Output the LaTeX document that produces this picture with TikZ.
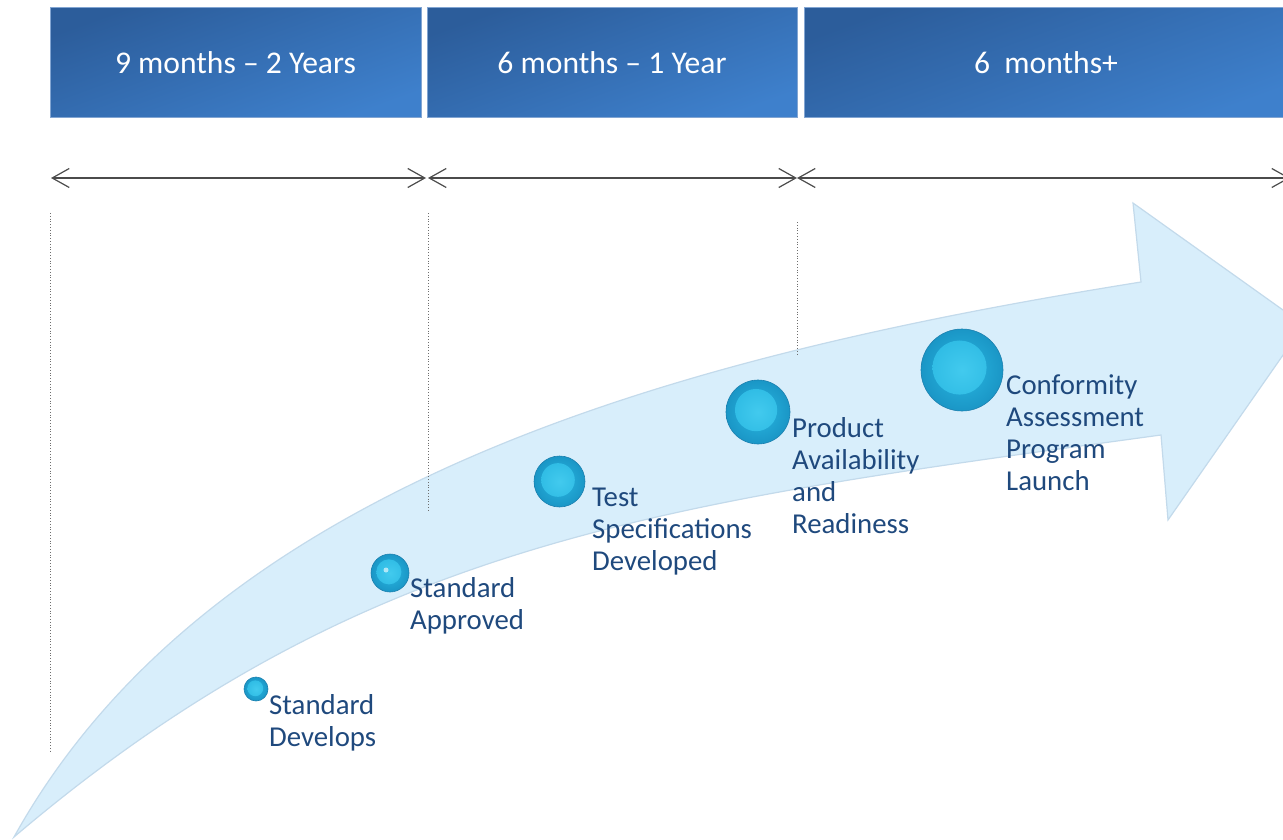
\documentclass[tikz,border=0pt]{standalone}
\usepackage{fontspec}
\setmainfont{Carlito}
\usetikzlibrary{arrows.meta}
\definecolor{hdrtop}{RGB}{44,93,155}
\definecolor{hdrbot}{RGB}{62,128,204}
\definecolor{hdredge}{RGB}{130,165,210}
\definecolor{lbl}{RGB}{31,73,125}
\definecolor{arrowfill}{RGB}{216,238,251}
\definecolor{arrowedge}{RGB}{195,218,235}
\definecolor{dotgray}{RGB}{110,110,110}
\definecolor{tlgray}{RGB}{75,75,75}
\definecolor{ballout}{RGB}{26,150,198}
\definecolor{ballmid}{RGB}{42,184,226}
\definecolor{ballin}{RGB}{66,202,238}
\definecolor{balledge}{RGB}{28,128,175}
\tikzset{
  hdr/.style={draw=hdredge, line width=1pt, top color=hdrtop, bottom color=hdrbot,
    shading angle=20, minimum height=110pt, inner sep=0pt, text=white,
    font=\fontsize{31.6}{38}\selectfont},
  tl/.style={draw=tlgray, line width=1.2pt,
    {Straight Barb[length=17pt,width=19pt]}-{Straight Barb[length=17pt,width=19pt]}},
  vdot/.style={draw=dotgray, line width=0.8pt, dotted},
  ball/.style={circle, inner sep=0pt, minimum size=#1, draw=balledge, line width=0.6pt,
    shading=radial, inner color=ballmid, outer color=ballout,
    path picture={\shade[inner color=ballin, outer color=ballmid]
      ([xshift=-0.03*#1, yshift=0.03*#1]path picture bounding box.center) circle (0.33*#1);}},
  lab/.style={anchor=base west, align=left, inner sep=0pt, text=lbl,
    font=\fontsize{28.8}{32}\selectfont}
}
\begin{document}
\begin{tikzpicture}[x=1pt,y=-1pt]
\useasboundingbox (0,0) rectangle (1283,840);
\clip (0,0) rectangle (1283,840);
% big curved arrow
\coordinate (tip) at (14,837);
\coordinate (un) at (1141,282);
\coordinate (ub) at (1133,203);
\coordinate (hp) at (1304,325);
\coordinate (lb) at (1168,520);
\coordinate (ln) at (1161,435);
\fill[arrowfill, draw=arrowedge, line width=1.2pt]
  (tip) .. controls (214,477) and (691,354) .. (un)
  -- (ub) -- (hp) -- (lb) -- (ln)
  .. controls (661,503.5) and (364,539.5) .. (tip) -- cycle;
% headers
\node[hdr, minimum width=371pt] (h1) at (235.5,63) {9 months -- 2 Years};
\node[hdr, minimum width=370pt] (h2) at (612,63) {6 months -- 1 Year};
\node[hdr, minimum width=484pt] (h3) at (1046,63) {6\ \ months+};
% timeline arrows
\coordinate (t0) at (51,178);
\coordinate (t1) at (426,178);
\coordinate (t2) at (428,178);
\coordinate (t3) at (797,178);
\coordinate (t4) at (797,178);
\coordinate (t5) at (1290,178);
\draw[tl] (t0) -- (t1);
\draw[tl] (t2) -- (t3);
\draw[tl] (t4) -- (t5);
% dotted markers
\coordinate (d1a) at (50,213); \coordinate (d1b) at (50,752);
\coordinate (d2a) at (428,213); \coordinate (d2b) at (428,510);
\coordinate (d3a) at (797,222); \coordinate (d3b) at (797,356);
\draw[vdot] (d1a) -- (d1b);
\draw[vdot] (d2a) -- (d2b);
\draw[vdot] (d3a) -- (d3b);
% balls
\node[ball=24pt] (b1) at (256,689) {};
\node[ball=38pt] (b2) at (390,573) {};
\node[ball=51pt] (b3) at (559.5,481.5) {};
\node[ball=64pt] (b4) at (758,412) {};
\node[ball=82pt] (b5) at (962,370) {};
\fill[white, opacity=0.6] (386,570) circle (2.5pt);
% labels (anchored at baseline of last line)
\node[lab] (l1) at (269,746) {Standard\\Develops};
\node[lab] (l2) at (410,629) {Standard\\Approved};
\node[lab] (l3) at (592,570) {Test\\Specifications\\Developed};
\node[lab] (l4) at (792,533) {Product\\Availability\\and\\Readiness};
\node[lab] (l5) at (1006,490) {Conformity\\Assessment\\Program\\Launch};
\end{tikzpicture}
\end{document}
